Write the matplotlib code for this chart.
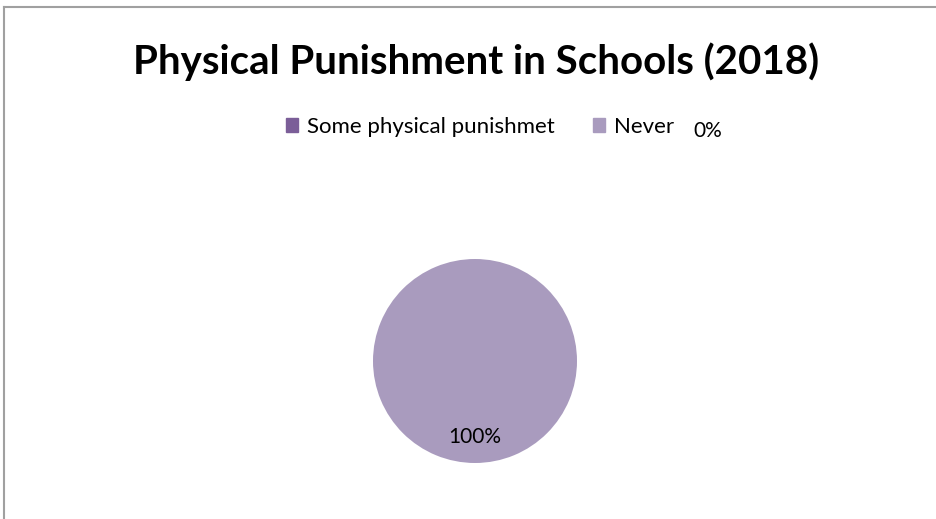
import matplotlib.pyplot as plt
from matplotlib.lines import Line2D

# Data for the pie
# ----------------
categories = ['Some physical punishmet', 'Never']
values = [0, 100]
colors = ['#7B5E98', '#A99BBE']

fig = plt.figure(figsize=(9.37, 5.19), dpi=100)
plt.rcParams['font.family'] = ['Lato', 'DejaVu Sans']

# Pie axes placed so the circle sits low in the frame
# ----------------------------------------------------
W, H = 937, 519
cx, cy, r = 475, 361, 102
ax = fig.add_axes([(cx - r) / W, (H - cy - r) / H, 2 * r / W, 2 * r / H])
wedges, texts, autotexts = ax.pie(values, colors=colors, startangle=90,
                                  counterclock=False, autopct='%.0f%%',
                                  pctdistance=0.75,
                                  wedgeprops=dict(linewidth=0),
                                  textprops=dict(fontsize=15, color='#000000'))
ax.set_xlim(-1, 1)
ax.set_ylim(-1, 1)
ax.set_aspect('equal')

# The 0% label sits off to the right of the legend, as in the source
autotexts[0].set_visible(False)
fig.text(708 / W, 1 - 131 / H, '%.0f%%' % values[0], fontsize=15,
         ha='center', va='center')

# Title and legend
# ----------------
fig.text(476 / W, 1 - 62 / H, 'Physical Punishment in Schools (2018)',
         fontsize=29, fontweight='bold', ha='center', va='center')
handles = [plt.Rectangle((0, 0), 1, 1, color=c) for c in colors]
fig.legend(handles, categories, ncol=2, frameon=False, fontsize=16,
           loc='center', bbox_to_anchor=(480 / W, 1 - 127 / H),
           handlelength=0.55, handleheight=0.55, handletextpad=0.4,
           columnspacing=1.75, borderpad=0, borderaxespad=0)

# Grey frame lines along top and left edge
# ----------------------------------------
fig.add_artist(Line2D([4 / W, 1], [1 - 7 / H, 1 - 7 / H], color='#A0A0A0',
                      linewidth=1.5, transform=fig.transFigure))
fig.add_artist(Line2D([4 / W, 4 / W], [0, 1 - 7 / H], color='#A0A0A0',
                      linewidth=1.5, transform=fig.transFigure))

fig.savefig('out.png', dpi=100)
